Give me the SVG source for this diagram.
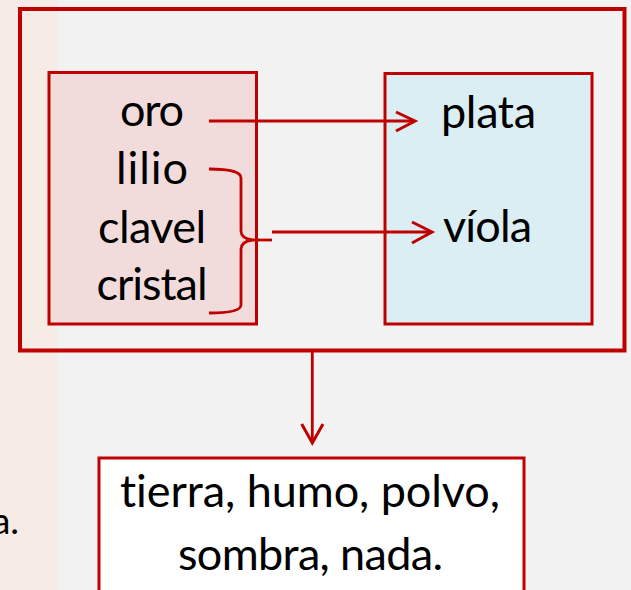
<svg xmlns="http://www.w3.org/2000/svg" width="631" height="590" viewBox="0 0 631 590">
<defs>
<style>
.t{font-family:"Lato","Open Sans","Liberation Sans",sans-serif;font-size:45px;fill:#000;text-anchor:middle;font-variant-ligatures:none;font-feature-settings:"liga" 0}
.box{stroke:#c00000;stroke-width:3}
.ln{fill:none;stroke:#c00000;stroke-width:2.8;stroke-linecap:butt}
.ah{fill:none;stroke:#c00000;stroke-width:3;stroke-linejoin:miter}
</style>
</defs>
<rect x="0" y="0" width="631" height="590" fill="#f2f2f2"/>
<rect x="0" y="0" width="57.5" height="590" fill="#f7ebe6"/>
<text x="19" y="534" class="t" style="text-anchor:end;font-size:37px">a.</text>
<g id="outer">
<rect x="20" y="9" width="604.5" height="341.5" fill="none" stroke="#c00000" stroke-width="4"/>
</g>
<g id="left">
<rect class="box" x="49" y="72.5" width="207.5" height="251.5" fill="#f2dcdb"/>
<text class="t" x="152" y="126" textLength="64">oro</text>
<text class="t" x="152" y="184" textLength="72">lilio</text>
<text class="t" x="152" y="243" textLength="108">clavel</text>
<text class="t" x="152" y="300" textLength="111">cristal</text>
</g>
<g id="right">
<rect class="box" x="385" y="73.5" width="207" height="250.5" fill="#daeef3"/>
<text class="t" x="488.5" y="128" textLength="95">plata</text>
<text class="t" x="487.5" y="242" textLength="89">víola</text>
</g>
<g id="bottom">
<rect class="box" x="99" y="458" width="425" height="140" fill="#ffffff"/>
<text class="t" x="310" y="507" textLength="380">tierra, humo, polvo,</text>
<text class="t" x="310.5" y="570" textLength="265">sombra, nada.</text>
</g>
<g id="connectors">
<path class="ln" d="M209,121 L414,121"/>
<path class="ah" d="M396,112 L415,121 L396,131"/>
<path class="ln" d="M209,169 C228,169 241,171 241,178 L241,231 C241,236 246,239 252,240 C246,241 241,244 241,249 L241,305 C241,311 228,313 209,313"/>
<path class="ln" d="M250,240 L272,240"/>
<path class="ln" d="M272,232 L431,232"/>
<path class="ah" d="M412,222 L432,232 L412,243"/>
<path class="ln" d="M312.3,350 L312.3,442"/>
<path class="ah" d="M301.7,424 L312.3,443 L323,424"/>
</g>
</svg>
